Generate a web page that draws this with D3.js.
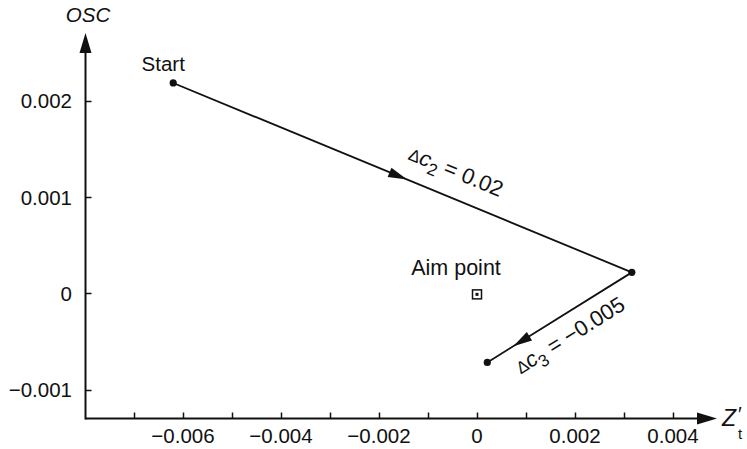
<!DOCTYPE html>
<html><head><meta charset="utf-8">
<script src="https://cdn.jsdelivr.net/npm/d3@7"></script>
<style>body{margin:0;background:#fff}svg{display:block}text{font-family:"Liberation Sans",Arial,sans-serif;fill:#111}</style>
</head><body>
<svg id="c" width="747" height="449"></svg>
<script>
// Data
const xTickValues = [-0.006, -0.004, -0.002, 0, 0.002, 0.004];
const xMinorTicks = [-0.007, -0.005, -0.003, -0.001, 0.001, 0.003];
const xTickLabels = ["\u22120.006", "\u22120.004", "\u22120.002", "0", "0.002", "0.004"];
const yTickValues = [-0.001, 0, 0.001, 0.002];
const yTickLabels = ["\u22120.001", "0", "0.001", "0.002"];
const pathX = [-0.0062, 0.00316, 0.00021];
const pathY = [0.002184, 0.000218, -0.000717];
const pointLabels = ["Start", "", ""];
const aimPoint = [0, 0];
const stepLabels = [["c", "2", " = 0.02"], ["c", "3", " = \u22120.005"]];

const svg = d3.select("#c");
const x = d3.scaleLinear().domain([-0.008, 0.004]).range([85, 673]);
const y = d3.scaleLinear().domain([-0.001, 0.002]).range([389.7, 100.7]);
const x0 = 85.5, y0 = 418.5, xEnd = 717, yEnd = 33;
const FS = 20.5;

// axes lines
svg.append("line").attr("x1", x0).attr("x2", xEnd - 16).attr("y1", y0).attr("y2", y0).attr("stroke", "#111").attr("stroke-width", 2);
svg.append("line").attr("x1", x0).attr("x2", x0).attr("y1", y0 + 1).attr("y2", yEnd + 16).attr("stroke", "#111").attr("stroke-width", 2);
svg.append("path").attr("d", `M${xEnd},${y0} L${xEnd - 20},${y0 - 6} L${xEnd - 20},${y0 + 6} Z`).attr("fill", "#111");
svg.append("path").attr("d", `M${x0},${yEnd} L${x0 - 6},${yEnd + 20} L${x0 + 6},${yEnd + 20} Z`).attr("fill", "#111");

// x ticks
const allX = xTickValues.concat(xMinorTicks);
svg.selectAll(".xt").data(allX).join("line").attr("x1", d => Math.round(x(d)) + 0.5).attr("x2", d => Math.round(x(d)) + 0.5)
  .attr("y1", y0).attr("y2", y0 - 6).attr("stroke", "#111").attr("stroke-width", 1.5);
svg.selectAll(".xl").data(xTickValues).join("text").attr("x", d => x(d)).attr("y", 443).attr("text-anchor", "middle")
  .attr("font-size", FS).text((d, i) => xTickLabels[i]);

// y ticks
svg.selectAll(".yt").data(yTickValues).join("line").attr("x1", x0).attr("x2", x0 + 6)
  .attr("y1", d => Math.round(y(d)) + 0.5).attr("y2", d => Math.round(y(d)) + 0.5).attr("stroke", "#111").attr("stroke-width", 1.5);
svg.selectAll(".yl").data(yTickValues).join("text").attr("x", 72).attr("y", d => y(d) + 7.5).attr("text-anchor", "end")
  .attr("font-size", FS).text((d, i) => yTickLabels[i]);

// axis titles
svg.append("text").attr("x", 88).attr("y", 22).attr("text-anchor", "middle").attr("font-size", FS).attr("font-style", "italic").text("OSC");
svg.append("text").attr("x", 722).attr("y", 426).attr("font-size", 23).attr("font-style", "italic").text("Z");
svg.append("text").attr("x", 738).attr("y", 421).attr("font-size", 20).text("\u2032");
svg.append("text").attr("x", 738).attr("y", 439).attr("font-size", 15).text("t");

// path segments
const pts = pathX.map((v, i) => [x(v), y(pathY[i])]);
const arrowFrac = [0.51, 0.82];
for (let i = 0; i < pts.length - 1; i++) {
  const [ax, ay] = pts[i], [bx, by] = pts[i + 1];
  svg.append("line").attr("x1", ax).attr("y1", ay).attr("x2", bx).attr("y2", by).attr("stroke", "#111").attr("stroke-width", 1.8);
  const ang = Math.atan2(by - ay, bx - ax) * 180 / Math.PI;
  const tx = ax + (bx - ax) * arrowFrac[i], ty = ay + (by - ay) * arrowFrac[i];
  svg.append("path").attr("d", "M0,0 L-19,-5 L-19,5 Z").attr("fill", "#111")
    .attr("transform", `translate(${tx},${ty}) rotate(${ang})`);
}
svg.selectAll(".pt").data(pts).join("circle").attr("cx", d => d[0]).attr("cy", d => d[1]).attr("r", 3.6).attr("fill", "#111");

// Start label
svg.append("text").attr("x", pts[0][0] - 10).attr("y", 71).attr("text-anchor", "middle").attr("font-size", FS).text(pointLabels[0]);

// aim point
const ax0 = x(aimPoint[0]), ay0 = y(aimPoint[1]);
svg.append("rect").attr("x", ax0 - 4.5).attr("y", ay0 - 3.5).attr("width", 9).attr("height", 9).attr("fill", "none").attr("stroke", "#111").attr("stroke-width", 1.5);
svg.append("rect").attr("x", ax0 - 1.5).attr("y", ay0 - 0.5).attr("width", 3).attr("height", 3).attr("fill", "#111");
svg.append("text").attr("x", ax0 - 21).attr("y", ay0 - 18).attr("text-anchor", "middle").attr("font-size", 21.5).text("Aim point");

// step labels
function stepLabel(i, frac, off, flip) {
  let [ax, ay] = pts[i], [bx, by] = pts[i + 1];
  if (flip) { [ax, ay, bx, by] = [bx, by, ax, ay]; frac = 1 - frac; }
  const ang = Math.atan2(by - ay, bx - ax) * 180 / Math.PI;
  const cx = ax + (bx - ax) * frac, cy = ay + (by - ay) * frac;
  const t = svg.append("text").attr("text-anchor", "middle").attr("font-size", 22)
    .attr("transform", `translate(${cx},${cy}) rotate(${ang}) translate(0,${off})`);
  t.append("tspan").text("\u0394").attr("font-size", 17);
  t.append("tspan").text(stepLabels[i][0]).attr("font-style", "italic");
  t.append("tspan").text(stepLabels[i][1]).attr("font-size", 17).attr("dy", 6);
  t.append("tspan").text(stepLabels[i][2]).attr("dy", -6);
}
stepLabel(0, 0.595, -19, false);
stepLabel(1, 0.505, 28, true);
</script>
</body></html>
